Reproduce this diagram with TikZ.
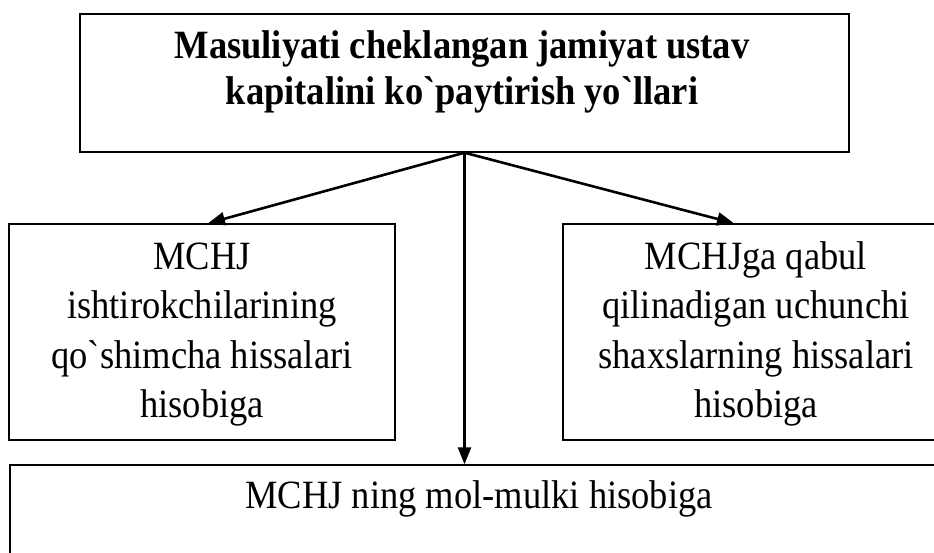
\documentclass[tikz,border=0pt]{standalone}
\usepackage{fontspec}
\setmainfont{Liberation Serif}[Ligatures=TeXOff]
\usetikzlibrary{arrows.meta}
\begin{document}
\begin{tikzpicture}[x=1pt,y=-1pt,
  box/.style={draw=black, line width=1.4pt, rectangle, inner sep=0pt, fill=none},
  conn/.style={line width=2.6pt, -{Triangle[length=17pt,width=13pt]}},
  body/.style={font=\fontsize{36.5}{45}\selectfont, align=center, inner sep=0pt, yscale=1.1, transform shape},
  head/.style={font=\fontsize{36.5}{41.8}\selectfont\bfseries, align=center, inner sep=0pt, yscale=1.1, transform shape}]
\useasboundingbox (0,0) rectangle (934,553);
\clip (0,0) rectangle (934,553);
\fill[white] (0,0) rectangle (934,553);
% boxes
\node[box, minimum width=769pt, minimum height=138pt] (top) at (464.5,83) {};
\node[box, minimum width=386pt, minimum height=216pt] (left) at (202,332) {};
\node[box, minimum width=386pt, minimum height=216pt] (right) at (756,332) {};
\node[box, minimum width=940pt, minimum height=160pt] (bottom) at (480,545) {};
% texts
\node[head] (toptext) at (462,71.8) {Masuliyati cheklangan jamiyat ustav\\kapitalini ko`paytirish yo`llari};
\node[body] (lefttext) at (202,334.6) {MCHJ\\ishtirokchilarining\\qo`shimcha hissalari\\hisobiga};
\node[body] (righttext) at (756,334.1) {MCHJga qabul\\qilinadigan uchunchi\\shaxslarning hissalari\\hisobiga};
\node[body, anchor=base] (bottomtext) at (479,508) {MCHJ ning mol-mulki hisobiga};
% connectors
\draw[conn] (top.south) -- ([xshift=6pt]left.north);
\draw[conn] (top.south) -- ([xshift=-22pt]right.north);
\draw[conn] (top.south) -- (top.south |- bottom.north);
\end{tikzpicture}
\end{document}
